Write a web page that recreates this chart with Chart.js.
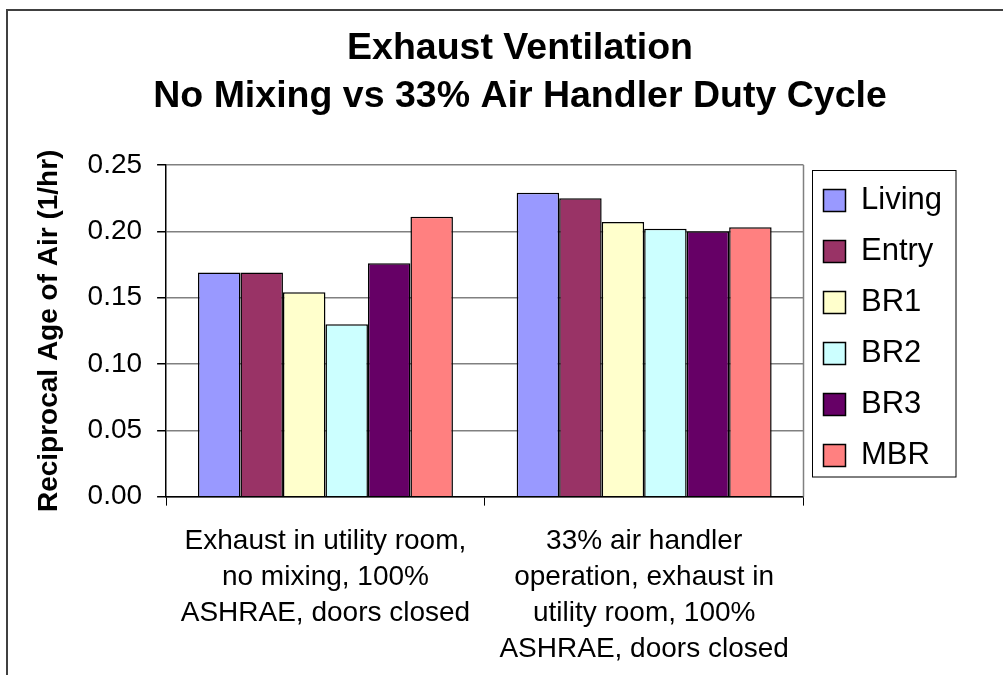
<!DOCTYPE html>
<html>
<head>
<meta charset="utf-8">
<script src="https://cdn.jsdelivr.net/npm/chart.js@4.4.1/dist/chart.umd.min.js"></script>
<style>
  html, body { margin: 0; padding: 0; background: #fff; }
  #wrap { width: 1003px; height: 675px; overflow: hidden; }
</style>
</head>
<body>
<div id="wrap"><canvas id="ageChart" width="1040" height="685"></canvas></div>
<script>
// categories (multi-line labels) and room series
var categories = [
    ['Exhaust in utility room,', 'no mixing, 100%', 'ASHRAE, doors closed'],
    ['33% air handler', 'operation, exhaust in', 'utility room, 100%', 'ASHRAE, doors closed']
];
var living = [0.169, 0.229];
var entry = [0.169, 0.225];
var br1 = [0.154, 0.207];
var br2 = [0.130, 0.202];
var br3 = [0.176, 0.200];
var mbr = [0.211, 0.203];

var seriesNames = ['Living', 'Entry', 'BR1', 'BR2', 'BR3', 'MBR'];
var seriesValues = [living, entry, br1, br2, br3, mbr];
var seriesColors = ['#9999FF', '#993366', '#FFFFCC', '#CCFFFF', '#660066', '#FF8080'];

var yTicks = [0, 0.05, 0.10, 0.15, 0.20, 0.25];

Chart.defaults.font.family = '"Liberation Sans", Arial, sans-serif';
Chart.defaults.color = '#000';

// empty box right of the legend so the title centres like the original
var rightGap = {
    id: 'rightGap',
    beforeInit: function(chart) {
        Chart.layouts.addBox(chart, {
            position: 'right',
            weight: 2000,
            fullSize: false,
            options: {},
            isHorizontal: function() { return false; },
            update: function(w, h) { this.width = 60; this.height = h; },
            draw: function() {}
        });
    }
};

// outer frame, plot frame and legend frame
var frames = {
    id: 'frames',
    beforeDraw: function(chart) {
        var ctx = chart.ctx;
        ctx.save();
        ctx.fillStyle = '#fff';
        ctx.fillRect(0, 0, chart.width, chart.height);
        ctx.strokeStyle = '#404040';
        ctx.lineWidth = 2;
        ctx.strokeRect(7, 10, 1200, 1000);
        ctx.restore();
    },
    afterDraw: function(chart) {
        var ctx = chart.ctx;
        var a = chart.chartArea;
        ctx.save();
        ctx.strokeStyle = '#808080';
        ctx.lineWidth = 1.5;
        ctx.beginPath();
        ctx.moveTo(a.right, a.top);
        ctx.lineTo(a.right, a.bottom);
        ctx.stroke();

        var boxes = chart.legend.legendHitBoxes;
        if (boxes && boxes.length) {
            var first = boxes[0];
            var last = boxes[boxes.length - 1];
            var right = 0;
            boxes.forEach(function(b) { right = Math.max(right, b.left + b.width); });
            ctx.strokeStyle = '#000';
            ctx.lineWidth = 1;
            var l = Math.round(first.left - 12) + 0.5;
            var t = Math.round(first.top - 15) + 0.5;
            ctx.strokeRect(l, t, Math.round(right + 14) - l, Math.round(last.top + 37) - t);
        }
        ctx.restore();
    }
};

new Chart(document.getElementById('ageChart'), {
    type: 'bar',
    data: {
        labels: categories,
        datasets: seriesNames.map(function(name, i) {
            return {
                label: name,
                data: seriesValues[i],
                backgroundColor: seriesColors[i],
                borderColor: '#000',
                borderWidth: 1.5,
                categoryPercentage: 0.8,
                barPercentage: 1.0
            };
        })
    },
    options: {
        responsive: false,
        animation: false,
        devicePixelRatio: 1,
        layout: { padding: { left: 28, right: 28, top: 10, bottom: 0 } },
        plugins: {
            title: {
                display: true,
                text: ['Exhaust Ventilation', 'No Mixing vs 33% Air Handler Duty Cycle'],
                font: { size: 37.5, weight: 'bold', lineHeight: 1.28 },
                padding: { top: 15, bottom: 44 }
            },
            legend: {
                position: 'right',
                fullSize: false,
                align: 'start',
                labels: {
                    boxWidth: 22,
                    boxHeight: 22,
                    padding: 20,
                    font: { size: 31 }
                }
            },
            tooltip: { enabled: false }
        },
        scales: {
            x: {
                grid: { drawOnChartArea: false, tickLength: 9, tickColor: '#000' },
                border: { color: '#000', width: 1.5 },
                ticks: { font: { size: 28, lineHeight: 1.28 }, padding: 18, maxRotation: 0, autoSkip: false }
            },
            y: {
                min: 0,
                max: 0.25,
                afterBuildTicks: function(scale) {
                    scale.ticks = yTicks.map(function(v) { return { value: v }; });
                },
                ticks: {
                    font: { size: 28 },
                    padding: 15,
                    callback: function(v) { return Number(v).toFixed(2); }
                },
                grid: { color: '#808080', lineWidth: 1.5, tickLength: 9, tickColor: '#000' },
                border: { color: '#000', width: 1.5 },
                title: {
                    display: true,
                    text: 'Reciprocal Age of Air (1/hr)',
                    font: { size: 28, weight: 'bold' },
                    padding: { top: 4, bottom: 7 }
                }
            }
        }
    },
    plugins: [rightGap, frames]
});
</script>
</body>
</html>
